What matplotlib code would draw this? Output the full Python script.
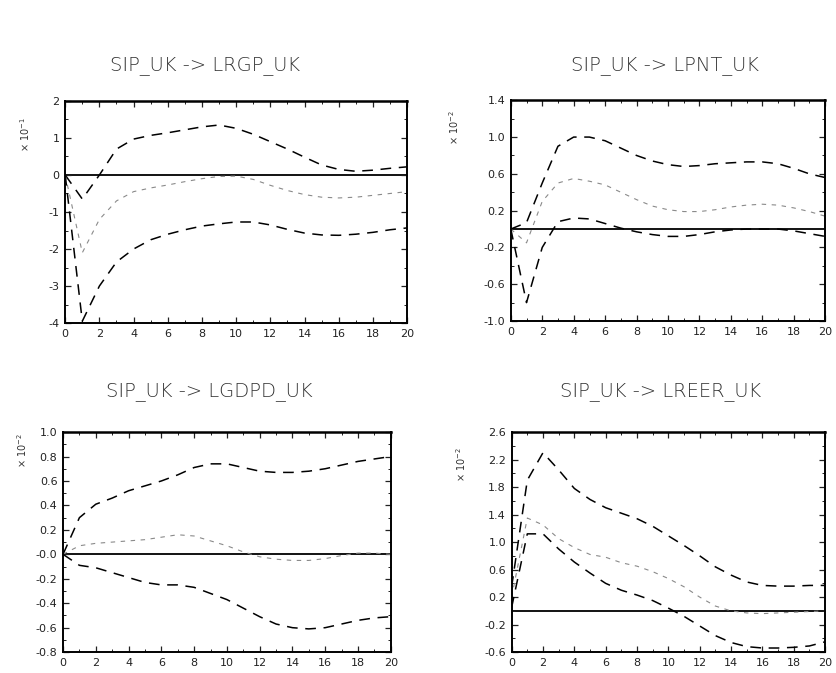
import numpy as np
import matplotlib
matplotlib.use("Agg")
import matplotlib.pyplot as plt
from matplotlib.ticker import MultipleLocator, FixedLocator, FixedFormatter

plt.rcParams["font.family"] = ["DejaVu Sans"]
plt.rcParams["axes.unicode_minus"] = False

horizon = np.arange(21)

# SIP_UK -> LRGP_UK  (x 10^-1)
lrgp_upper = [0.0, -0.65, 0.0, 0.7, 0.97, 1.07, 1.14, 1.22, 1.3, 1.35, 1.26,
              1.1, 0.9, 0.7, 0.48, 0.27, 0.15, 0.1, 0.13, 0.18, 0.22]
lrgp_irf = [0.0, -2.1, -1.2, -0.7, -0.45, -0.35, -0.27, -0.18, -0.1, -0.04, -0.03,
            -0.12, -0.28, -0.42, -0.53, -0.6, -0.62, -0.6, -0.55, -0.5, -0.45]
lrgp_lower = [0.0, -3.95, -3.0, -2.35, -2.0, -1.75, -1.6, -1.48, -1.38, -1.32, -1.27,
              -1.27, -1.35, -1.47, -1.57, -1.62, -1.63, -1.6, -1.55, -1.48, -1.43]

# SIP_UK -> LPNT_UK  (x 10^-2)
lpnt_upper = [0.0, 0.07, 0.5, 0.9, 1.0, 1.0, 0.96, 0.88, 0.8, 0.74, 0.7,
              0.68, 0.69, 0.71, 0.72, 0.73, 0.73, 0.71, 0.66, 0.6, 0.56]
lpnt_irf = [0.0, -0.15, 0.3, 0.5, 0.55, 0.52, 0.48, 0.4, 0.32, 0.25, 0.21,
            0.19, 0.19, 0.21, 0.24, 0.26, 0.27, 0.26, 0.23, 0.19, 0.14]
lpnt_lower = [0.0, -0.8, -0.2, 0.08, 0.12, 0.11, 0.06, 0.01, -0.03, -0.06, -0.08,
              -0.08, -0.06, -0.03, -0.01, 0.0, 0.0, 0.0, -0.02, -0.05, -0.08]

# SIP_UK -> LGDPD_UK  (x 10^-2)
lgdpd_upper = [0.0, 0.3, 0.41, 0.46, 0.52, 0.56, 0.6, 0.65, 0.71, 0.74, 0.74,
               0.71, 0.68, 0.67, 0.67, 0.68, 0.7, 0.73, 0.76, 0.78, 0.8]
lgdpd_irf = [0.0, 0.07, 0.09, 0.1, 0.11, 0.12, 0.14, 0.16, 0.15, 0.11, 0.07,
             0.02, -0.02, -0.04, -0.05, -0.05, -0.035, -0.01, 0.01, 0.01, 0.0]
lgdpd_lower = [0.0, -0.09, -0.11, -0.15, -0.19, -0.23, -0.25, -0.25, -0.27, -0.32, -0.37,
               -0.44, -0.51, -0.57, -0.6, -0.61, -0.6, -0.57, -0.54, -0.52, -0.51]

# SIP_UK -> LREER_UK  (x 10^-2)
lreer_upper = [0.35, 1.9, 2.3, 2.05, 1.78, 1.62, 1.5, 1.42, 1.34, 1.23, 1.09,
               0.95, 0.8, 0.64, 0.52, 0.42, 0.37, 0.36, 0.36, 0.37, 0.37]
lreer_irf = [0.2, 1.35, 1.25, 1.05, 0.92, 0.82, 0.78, 0.7, 0.65, 0.57, 0.47,
             0.35, 0.2, 0.07, 0.0, -0.03, -0.04, -0.03, -0.02, -0.01, 0.0]
lreer_lower = [0.05, 1.12, 1.12, 0.9, 0.71, 0.55, 0.4, 0.3, 0.23, 0.15, 0.04,
               -0.08, -0.22, -0.36, -0.46, -0.52, -0.54, -0.54, -0.53, -0.51, -0.45]

panels = [
    dict(title="SIP_UK -> LRGP_UK", scale="× 10$^{-1}$",
         series=(lrgp_upper, lrgp_irf, lrgp_lower),
         yticks=[-4, -3, -2, -1, 0, 1, 2],
         ylabels=["-4", "-3", "-2", "-1", "0", "1", "2"], yminor=0.5,
         rect=[0.078, 0.520, 0.409, 0.330], title_xy=(0.245, 0.903), scale_xy=(0.030, 0.80)),
    dict(title="SIP_UK -> LPNT_UK", scale="× 10$^{-2}$",
         series=(lpnt_upper, lpnt_irf, lpnt_lower),
         yticks=[-1.0, -0.6, -0.2, 0.2, 0.6, 1.0, 1.4],
         ylabels=["-1.0", "-0.6", "-0.2", "0.2", "0.6", "1.0", "1.4"], yminor=0.2,
         rect=[0.611, 0.523, 0.376, 0.328], title_xy=(0.795, 0.903), scale_xy=(0.543, 0.81)),
    dict(title="SIP_UK -> LGDPD_UK", scale="× 10$^{-2}$",
         series=(lgdpd_upper, lgdpd_irf, lgdpd_lower),
         yticks=[-0.8, -0.6, -0.4, -0.2, 0.0, 0.2, 0.4, 0.6, 0.8, 1.0],
         ylabels=["-0.8", "-0.6", "-0.4", "-0.2", "-0.0", "0.2", "0.4", "0.6", "0.8", "1.0"],
         yminor=0.1,
         rect=[0.0754, 0.031, 0.392, 0.327], title_xy=(0.25, 0.418), scale_xy=(0.026, 0.33)),
    dict(title="SIP_UK -> LREER_UK", scale="× 10$^{-2}$",
         series=(lreer_upper, lreer_irf, lreer_lower),
         yticks=[-0.6, -0.2, 0.2, 0.6, 1.0, 1.4, 1.8, 2.2, 2.6],
         ylabels=["-0.6", "-0.2", "0.2", "0.6", "1.0", "1.4", "1.8", "2.2", "2.6"],
         yminor=0.2,
         rect=[0.612, 0.031, 0.375, 0.327], title_xy=(0.79, 0.418), scale_xy=(0.552, 0.31)),
]

fig = plt.figure(figsize=(8.36, 6.73), dpi=100)

for p in panels:
    ax = fig.add_axes(p["rect"])
    upper, irf, lower = p["series"]
    ax.axhline(0, color="black", lw=1.3, zorder=1)
    ax.plot(horizon, upper, color="black", lw=1.1, dashes=(7, 5))
    ax.plot(horizon, irf, color="#8a8a8a", lw=0.8, dashes=(4, 5))
    ax.plot(horizon, lower, color="black", lw=1.1, dashes=(7, 5))

    ax.set_xlim(0, 20)
    ax.set_ylim(p["yticks"][0], p["yticks"][-1])
    ax.xaxis.set_major_locator(MultipleLocator(2))
    ax.xaxis.set_minor_locator(MultipleLocator(1))
    ax.yaxis.set_major_locator(FixedLocator(p["yticks"]))
    ax.yaxis.set_major_formatter(FixedFormatter(p["ylabels"]))
    ax.yaxis.set_minor_locator(MultipleLocator(p["yminor"]))
    ax.tick_params(which="both", direction="in", top=True, right=True,
                   labelsize=8, colors="#222222", pad=4)
    ax.tick_params(which="major", length=4, width=0.9)
    ax.tick_params(which="minor", length=2, width=0.7)
    for side in ax.spines.values():
        side.set_linewidth(1.4)
    ax.spines["top"].set_linewidth(1.8)

    fig.text(p["title_xy"][0], p["title_xy"][1], p["title"], ha="center", va="center",
             fontsize=14, fontweight="light", color="#333333")
    fig.text(p["scale_xy"][0], p["scale_xy"][1], p["scale"], ha="center", va="center",
             rotation=90, fontsize=7, color="#333333")

fig.savefig("out.png", dpi=100)
